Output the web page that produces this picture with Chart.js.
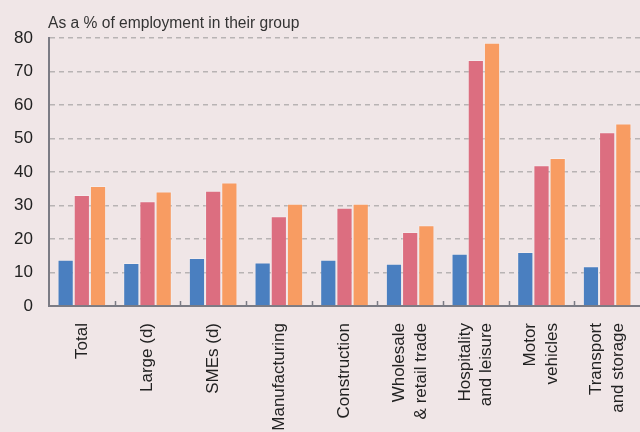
<!DOCTYPE html>
<html lang="en">
<head>
    <meta charset="UTF-8">
    <title>Employment share chart</title>
    <style>
        html, body {margin: 0; padding: 0; background: #f0e6e7; overflow: hidden;}
        #wrap {width: 640px; height: 432px; position: relative;}
    </style>
    <script src="https://cdn.jsdelivr.net/npm/chart.js@4.4.1/dist/chart.umd.min.js"></script>
</head>
<body>
    <div id="wrap">
        <canvas id="barChart" width="640" height="432"></canvas>
    </div>

    <script>
        // categories along the bottom (multi-line ones split into arrays)
        const categories = [
            'Total', 'Large (d)', 'SMEs (d)', 'Manufacturing', 'Construction',
            ['Wholesale', '& retail trade'], ['Hospitality', 'and leisure'],
            ['Motor', 'vehicles'], ['Transport', 'and storage']
        ];
        // three series
        const seriesBlue   = [13.8, 12.8, 14.3, 13.0, 13.8, 12.6, 15.6, 16.1, 11.9];
        const seriesRed    = [33.1, 31.3, 34.4, 26.8, 29.3, 22.1, 73.4, 42.0, 51.9];
        const seriesOrange = [35.8, 34.2, 36.9, 30.5, 30.5, 24.1, 78.6, 44.2, 54.5];
        const yTicks = [0, 10, 20, 30, 40, 50, 60, 70, 80];
        const subtitle = 'As a % of employment in their group';

        const axisGrey = '#7b7b84';
        const labelLineHeight = 1.28;
        const labelSize = 17;

        // title text + little tick marks between categories on the bottom axis
        const extras = {
            id: 'extras',
            beforeDraw(chart) {
                // centre the two-line category labels on their tick
                const items = chart.scales.x.getLabelItems();
                items.forEach(it => {
                    if (Array.isArray(it.label) && !it._centred) {
                        it.textOffset -= (it.label.length - 1) * labelSize * labelLineHeight / 2;
                        it._centred = true;
                    }
                });
            },
            afterDraw(chart) {
                const c = chart.ctx;
                const area = chart.chartArea;
                const xs = chart.scales.x;
                c.save();
                c.fillStyle = '#333';
                c.font = '15.6px "Liberation Sans", Arial, sans-serif';
                c.textBaseline = 'alphabetic';
                c.fillText(subtitle, area.left - 1, 28);
                c.strokeStyle = axisGrey;
                c.lineWidth = 1.5;
                const half = (xs.getPixelForValue(1) - xs.getPixelForValue(0)) / 2;
                for (let i = 1; i < categories.length; i++) {
                    const px = Math.round(xs.getPixelForValue(i) - half) + 0.5;
                    c.beginPath();
                    c.moveTo(px, area.bottom);
                    c.lineTo(px, area.bottom - 5);
                    c.stroke();
                }
                c.restore();
            }
        };

        const ctx = document.getElementById('barChart');
        const chart = new Chart(ctx, {
            type: 'bar',
            data: {
                labels: categories,
                datasets: [
                    {data: seriesBlue, backgroundColor: '#4a7fc0', borderColor: 'rgba(255,255,255,0.25)', borderWidth: 1},
                    {data: seriesRed, backgroundColor: '#dc6e80', borderColor: 'rgba(255,255,255,0.25)', borderWidth: 1},
                    {data: seriesOrange, backgroundColor: '#f89c62', borderColor: 'rgba(255,255,255,0.25)', borderWidth: 1}
                ]
            },
            options: {
                responsive: false,
                animation: false,
                layout: {padding: {top: 38, right: 0, left: 0, bottom: 0}},
                plugins: {legend: {display: false}, tooltip: {enabled: false}},
                datasets: {bar: {categoryPercentage: 0.74, barPercentage: 1}},
                scales: {
                    x: {
                        grid: {display: false},
                        border: {display: true, color: axisGrey, width: 2},
                        ticks: {
                            minRotation: 90, maxRotation: 90, autoSkip: false,
                            padding: 9, color: '#222',
                            font: {family: '"Liberation Sans", Arial, sans-serif', size: labelSize, lineHeight: labelLineHeight}
                        },
                        afterFit(scale) {
                            scale.height = 126;
                            scale.paddingLeft = 0;
                            scale.paddingRight = 0;
                        }
                    },
                    y: {
                        min: 0, max: 80,
                        afterBuildTicks(scale) { scale.ticks = yTicks.map(v => ({value: v})); },
                        grid: {color: '#b8b3b4', lineWidth: 1.5, drawTicks: false},
                        border: {display: true, color: axisGrey, width: 2, dash: [5, 4]},
                        ticks: {
                            padding: 16, color: '#222',
                            font: {family: '"Liberation Sans", Arial, sans-serif', size: 17}
                        },
                        afterFit(scale) { scale.width = 49; }
                    }
                }
            },
            plugins: [extras]
        });
    </script>
</body>
</html>
